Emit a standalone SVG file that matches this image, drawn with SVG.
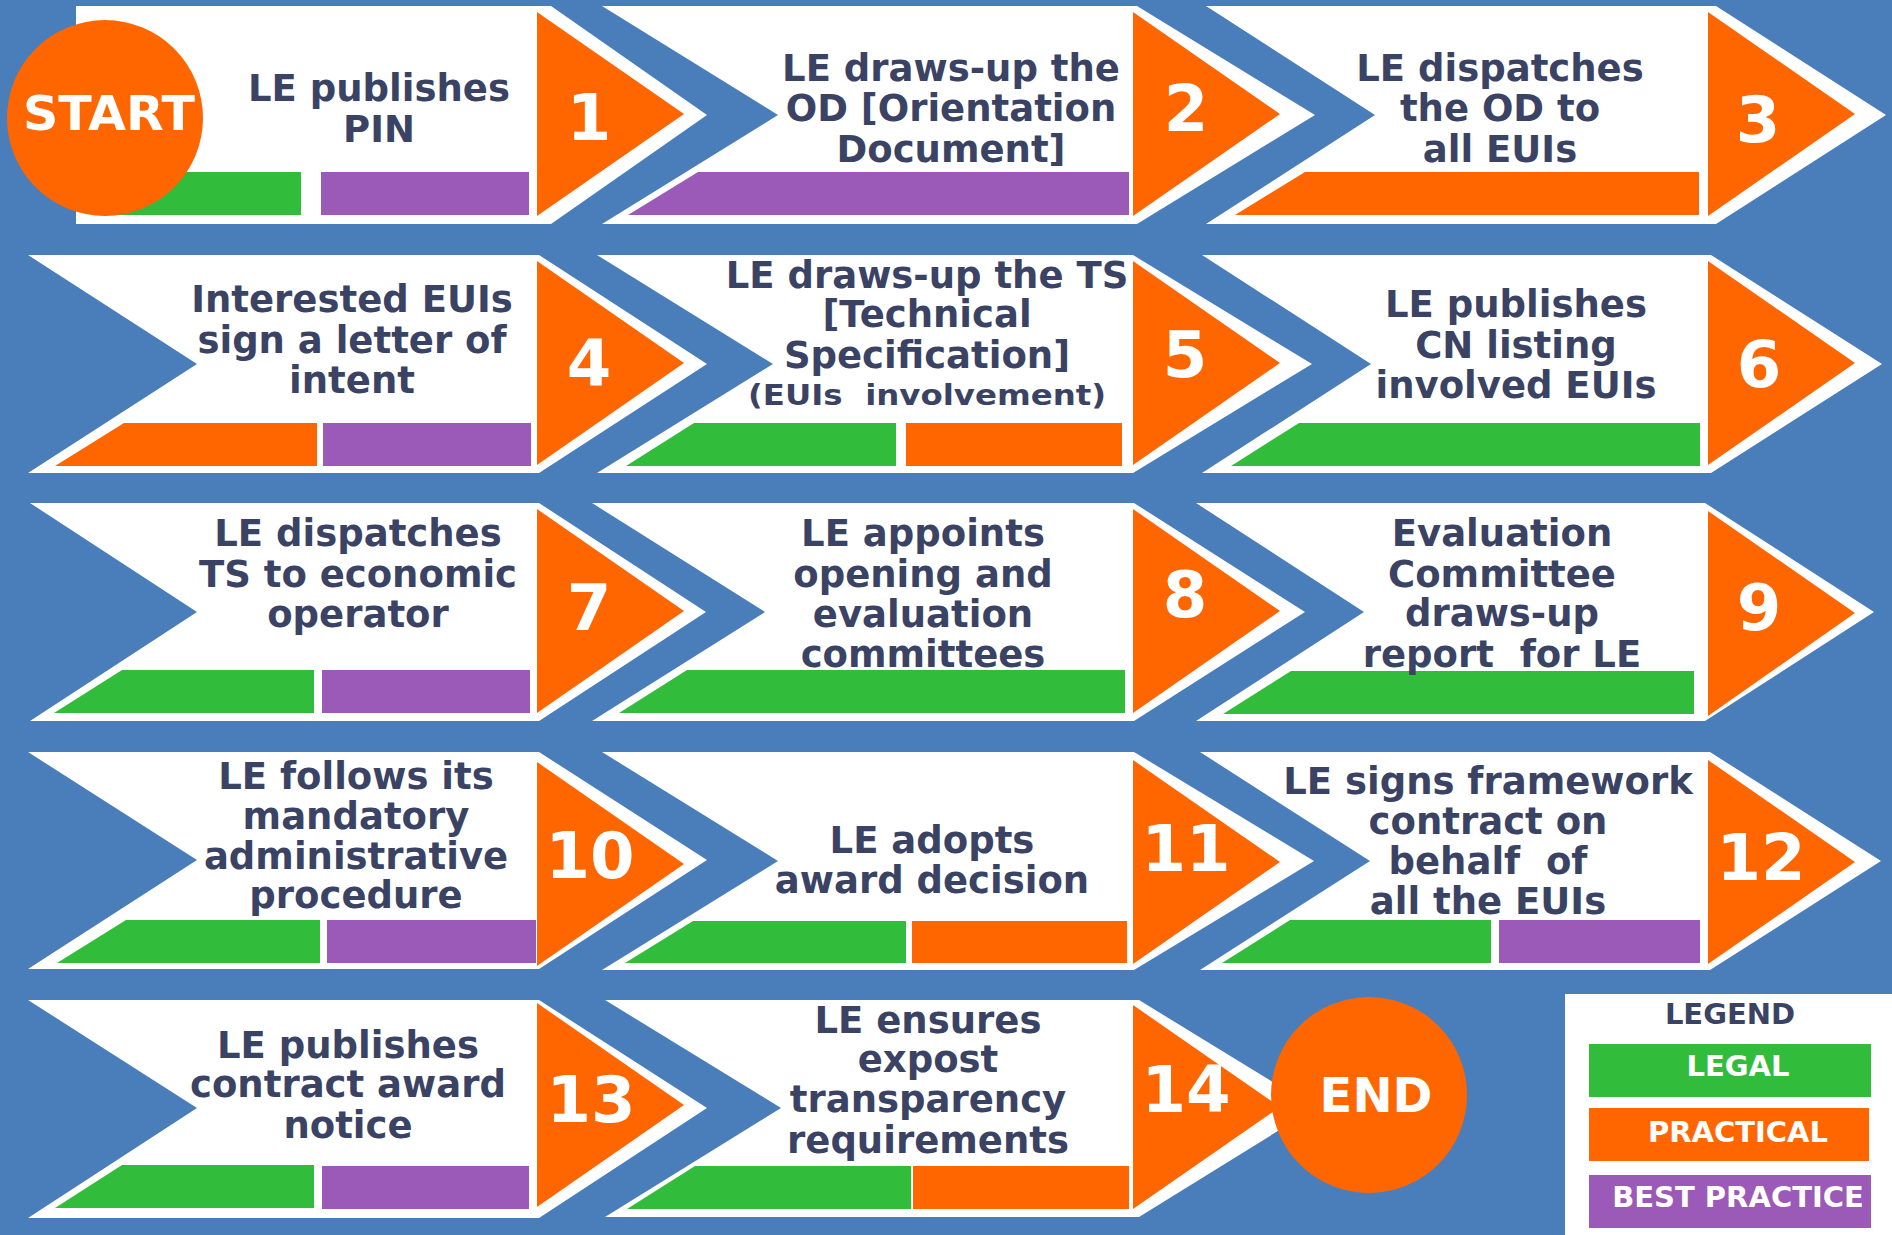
<svg xmlns="http://www.w3.org/2000/svg" width="1892" height="1235" viewBox="0 0 1892 1235">
<style>
.bg{fill:#4a7eba}
.chev{fill:#ffffff}
.tri{fill:#ff6600}
.g{fill:#32bc3c}
.o{fill:#ff6600}
.p{fill:#9b59b8}
.lbl{font-family:"DejaVu Sans","Liberation Sans",sans-serif;font-weight:bold;font-size:37px;fill:#3a4364;text-anchor:middle}
.sub{font-size:28px}
.num{font-family:"DejaVu Sans","Liberation Sans",sans-serif;font-weight:bold;font-size:64px;fill:#ffffff;text-anchor:middle}
.term{font-family:"DejaVu Sans","Liberation Sans",sans-serif;font-weight:bold;font-size:48px;fill:#ffffff;text-anchor:middle}
.leg{font-family:"DejaVu Sans","Liberation Sans",sans-serif;font-weight:bold;font-size:29px;text-anchor:middle}
</style>
<rect class="bg" x="0" y="0" width="1892" height="1235"/>
<g id="connectors"/>

<g id="step1">
<path class="chev" d="M76,6 H551 L707,115 L551,224 H76 Z"/>
<path class="tri" d="M537,12 L684,114 L537,216 Z"/>
<rect class="g" x="110" y="172" width="191" height="43"/>
<rect class="p" x="321" y="172" width="208" height="43"/>
<text class="lbl" x="379" y="101">LE publishes</text>
<text class="lbl" x="379" y="142">PIN</text>
<text class="num" x="589" y="140">1</text>
</g>

<g id="start">
<circle class="o" cx="105" cy="118" r="98"/>
<text class="term" x="109" y="130" textLength="172" lengthAdjust="spacingAndGlyphs">START</text>
</g>

<g id="step2">
<path class="chev" d="M602,6 H1137 L1315,115 L1137,224 H602 L778,115 Z"/>
<path class="tri" d="M1133,12 L1280,114 L1133,216 Z"/>
<polygon class="p" points="628,215 698,172 1129,172 1129,215"/>
<text class="lbl" x="951" y="81">LE draws-up the</text>
<text class="lbl" x="951" y="121">OD [Orientation</text>
<text class="lbl" x="951" y="162">Document]</text>
<text class="num" x="1186" y="131">2</text>
</g>

<g id="step3">
<path class="chev" d="M1206,6 H1716 L1886,115 L1716,224 H1206 L1375,115 Z"/>
<path class="tri" d="M1708,12 L1855,114 L1708,216 Z"/>
<polygon class="o" points="1235,215 1305,172 1699,172 1699,215"/>
<text class="lbl" x="1500" y="81">LE dispatches</text>
<text class="lbl" x="1500" y="121">the OD to</text>
<text class="lbl" x="1500" y="162">all EUIs</text>
<text class="num" x="1758" y="142">3</text>
</g>

<g id="step4">
<path class="chev" d="M28,255 H539 L707,364 L539,473 H28 L197,364 Z"/>
<path class="tri" d="M537,261 L684,363 L537,465 Z"/>
<polygon class="o" points="55,466 124,423 317,423 317,466"/>
<rect class="p" x="323" y="423" width="208" height="43"/>
<text class="lbl" x="352" y="312">Interested EUIs</text>
<text class="lbl" x="352" y="353">sign a letter of</text>
<text class="lbl" x="352" y="393">intent</text>
<text class="num" x="589" y="386">4</text>
</g>

<g id="step5">
<path class="chev" d="M597,255 H1133 L1312,364 L1133,473 H597 L773,364 Z"/>
<path class="tri" d="M1133,261 L1280,363 L1133,465 Z"/>
<polygon class="g" points="626,466 694,423 896,423 896,466"/>
<rect class="o" x="906" y="423" width="216" height="43"/>
<text class="lbl" x="927" y="288">LE draws-up the TS</text>
<text class="lbl" x="927" y="327">[Technical</text>
<text class="lbl" x="927" y="368">Specification]</text>
<text class="lbl sub" x="927" y="405" xml:space="preserve" textLength="358" lengthAdjust="spacingAndGlyphs">(EUIs  involvement)</text>
<text class="num" x="1185" y="377">5</text>
</g>

<g id="step6">
<path class="chev" d="M1202,255 H1711 L1882,364 L1711,473 H1202 L1371,364 Z"/>
<path class="tri" d="M1708,261 L1855,363 L1708,465 Z"/>
<polygon class="g" points="1231,466 1299,423 1700,423 1700,466"/>
<text class="lbl" x="1516" y="317">LE publishes</text>
<text class="lbl" x="1516" y="358">CN listing</text>
<text class="lbl" x="1516" y="398">involved EUIs</text>
<text class="num" x="1759" y="387">6</text>
</g>

<g id="step7">
<path class="chev" d="M30,503 H539 L706,612 L539,721 H30 L197,612 Z"/>
<path class="tri" d="M537,509 L684,611 L537,713 Z"/>
<polygon class="g" points="54,713 122,670 314,670 314,713"/>
<rect class="p" x="322" y="670" width="208" height="43"/>
<text class="lbl" x="358" y="546">LE dispatches</text>
<text class="lbl" x="358" y="587">TS to economic</text>
<text class="lbl" x="358" y="627">operator</text>
<text class="num" x="589" y="630">7</text>
</g>

<g id="step8">
<path class="chev" d="M592,503 H1134 L1305,612 L1134,721 H592 L765,612 Z"/>
<path class="tri" d="M1133,509 L1280,611 L1133,713 Z"/>
<polygon class="g" points="619,713 687,670 1125,670 1125,713"/>
<text class="lbl" x="923" y="546">LE appoints</text>
<text class="lbl" x="923" y="587">opening and</text>
<text class="lbl" x="923" y="627">evaluation</text>
<text class="lbl" x="923" y="667">committees</text>
<text class="num" x="1185" y="617">8</text>
</g>

<g id="step9">
<path class="chev" d="M1196,503 H1705 L1874,612 L1705,721 H1196 L1364,612 Z"/>
<path class="tri" d="M1708,511 L1855,613 L1708,716 Z"/>
<polygon class="g" points="1223,714 1291,671 1694,671 1694,714"/>
<text class="lbl" x="1502" y="546">Evaluation</text>
<text class="lbl" x="1502" y="587">Committee</text>
<text class="lbl" x="1502" y="626">draws-up</text>
<text class="lbl" x="1502" y="667" xml:space="preserve">report  for LE</text>
<text class="num" x="1759" y="630">9</text>
</g>

<g id="step10">
<path class="chev" d="M28,752 H539 L707,860 L539,969 H28 L197,860 Z"/>
<path class="tri" d="M537,762 L684,864 L537,966 Z"/>
<polygon class="g" points="57,963 126,920 320,920 320,963"/>
<rect class="p" x="327" y="920" width="209" height="43"/>
<text class="lbl" x="356" y="789">LE follows its</text>
<text class="lbl" x="356" y="829">mandatory</text>
<text class="lbl" x="356" y="869">administrative</text>
<text class="lbl" x="356" y="908">procedure</text>
<text class="num" x="590" y="878">10</text>
</g>

<g id="step11">
<path class="chev" d="M602,752 H1134 L1314,861 L1134,970 H602 L778,861 Z"/>
<path class="tri" d="M1133,760 L1280,862 L1133,964 Z"/>
<polygon class="g" points="625,963 693,921 906,921 906,963"/>
<rect class="o" x="912" y="921" width="215" height="42"/>
<text class="lbl" x="932" y="853">LE adopts</text>
<text class="lbl" x="932" y="893">award decision</text>
<text class="num" x="1186" y="871">11</text>
</g>

<g id="step12">
<path class="chev" d="M1200,752 H1710 L1881,861 L1710,970 H1200 L1370,861 Z"/>
<path class="tri" d="M1708,760 L1855,862 L1708,964 Z"/>
<polygon class="g" points="1222,963 1290,920 1491,920 1491,963"/>
<rect class="p" x="1499" y="920" width="201" height="43"/>
<text class="lbl" x="1488" y="794">LE signs framework</text>
<text class="lbl" x="1488" y="834">contract on</text>
<text class="lbl" x="1488" y="874" xml:space="preserve">behalf  of</text>
<text class="lbl" x="1488" y="914">all the EUIs</text>
<text class="num" x="1761" y="880">12</text>
</g>

<g id="step13">
<path class="chev" d="M28,1000 H539 L707,1108 L539,1218 H28 L197,1108 Z"/>
<path class="tri" d="M537,1003 L684,1105 L537,1207 Z"/>
<polygon class="g" points="55,1208 122,1165 314,1165 314,1208"/>
<rect class="p" x="322" y="1166" width="207" height="43"/>
<text class="lbl" x="348" y="1058">LE publishes</text>
<text class="lbl" x="348" y="1097">contract award</text>
<text class="lbl" x="348" y="1138">notice</text>
<text class="num" x="591" y="1122">13</text>
</g>

<g id="step14">
<path class="chev" d="M605,1000 H1139 L1315,1108 L1139,1217 H605 L781,1108 Z"/>
<path class="tri" d="M1133,1005 L1280,1107 L1133,1209 Z"/>
<polygon class="g" points="627,1209 695,1166 911,1166 911,1209"/>
<rect class="o" x="913" y="1166" width="216" height="43"/>
<text class="lbl" x="928" y="1033">LE ensures</text>
<text class="lbl" x="928" y="1072">expost</text>
<text class="lbl" x="928" y="1112">transparency</text>
<text class="lbl" x="928" y="1153">requirements</text>
<text class="num" x="1186" y="1112">14</text>
</g>

<g id="end">
<circle class="o" cx="1369" cy="1095" r="98"/>
<text class="term" x="1376" y="1112">END</text>
</g>

<g id="legend">
<rect fill="#ffffff" x="1565" y="994" width="327" height="241"/>
<text class="leg" fill="#3a4364" x="1730" y="1024">LEGEND</text>
<rect class="g" x="1589" y="1044" width="282" height="53"/>
<text class="leg" fill="#ffffff" x="1738" y="1076">LEGAL</text>
<rect class="o" x="1589" y="1108" width="280" height="53"/>
<text class="leg" fill="#ffffff" x="1738" y="1142">PRACTICAL</text>
<rect class="p" x="1589" y="1175" width="282" height="53"/>
<text class="leg" fill="#ffffff" x="1738" y="1207">BEST PRACTICE</text>
</g>
</svg>
